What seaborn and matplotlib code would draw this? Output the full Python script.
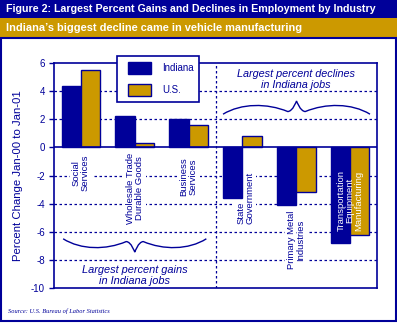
import numpy as np
import pandas as pd
import matplotlib
matplotlib.use("Agg")
import matplotlib.pyplot as plt
from matplotlib.patches import Rectangle, PathPatch
from matplotlib.path import Path
import seaborn as sns

# ---------------- data ----------------
categories = ["Social\nServices", "Wholesale Trade\nDurable Goods", "Business\nServices",
              "State\nGovernment", "Primary Metal\nIndustries",
              "Transportation\nEquipment\nManufacturing"]
indiana = [4.4, 2.2, 2.0, -3.6, -4.1, -6.8]
us = [5.5, 0.3, 1.6, 0.8, -3.2, -6.2]
series_names = ["Indiana", "U.S."]
yticks = [6, 4, 2, 0, -2, -4, -6, -8, -10]

title = "Figure 2: Largest Percent Gains and Declines in Employment by Industry"
subtitle = "Indiana\u2019s biggest decline came in vehicle manufacturing"
ylabel = "Percent Change Jan-00 to Jan-01"
note_top = "Largest percent declines\nin Indiana jobs"
note_bottom = "Largest percent gains\nin Indiana jobs"
source = "Source: U.S. Bureau of Labor Statistics"

# ---------------- style ----------------
NAVY = "#000099"
GOLD = "#CC9900"
sns.set_style("white")
plt.rcParams["font.family"] = ["Liberation Sans", "DejaVu Sans"]

W, H = 397, 323
fig = plt.figure(figsize=(W / 100, H / 100), dpi=100)

def fx(px):
    return px / W

def fy(py):
    return 1 - py / H

# header bars and frame
fig.patches.append(Rectangle((0, fy(18)), 1, 18 / H, transform=fig.transFigure,
                             facecolor=NAVY, edgecolor="none", zorder=0))
fig.patches.append(Rectangle((0, fy(38)), 1, 20 / H, transform=fig.transFigure,
                             facecolor=GOLD, edgecolor="none", zorder=0))
fig.patches.append(Rectangle((fx(0.5), fy(321)), fx(395), (321 - 38) / H,
                             transform=fig.transFigure, facecolor="none",
                             edgecolor=NAVY, linewidth=1.5, zorder=0))
fig.text(fx(6), fy(9), title, color="white", fontsize=7.7, fontweight="bold",
         va="center", ha="left")
fig.text(fx(6), fy(28), subtitle, color="white", fontsize=7.9, fontweight="bold",
         va="center", ha="left")
fig.text(fx(8), fy(311), source, color=NAVY, fontsize=4.6, style="italic",
         family=["Liberation Serif"], va="center", ha="left")

# axes
ax = fig.add_axes([fx(54), fy(288), fx(377 - 54), (288 - 63) / H])

df = pd.DataFrame({
    "category": categories * 2,
    "series": [series_names[0]] * len(categories) + [series_names[1]] * len(categories),
    "value": indiana + us,
})
sns.barplot(data=df, x="category", y="value", hue="series", order=categories,
            hue_order=series_names, palette=[NAVY, GOLD], width=0.72,
            edgecolor=NAVY, linewidth=1, saturation=1, ax=ax, legend=False, zorder=3)

ax.set_ylim(-10, 6)
ax.set_xlim(-0.5, len(categories) - 0.5)
ax.set_yticks(yticks)
ax.set_yticklabels([str(t) for t in yticks], color=NAVY, fontsize=7)
ax.tick_params(axis="y", direction="out", length=3.5, width=1, color=NAVY, pad=3, left=True)
ax.set_xticks([])
ax.set_xlabel("")
ax.set_ylabel(ylabel, color=NAVY, fontsize=8.2, labelpad=6)
for s in ax.spines.values():
    s.set_color(NAVY)
    s.set_linewidth(1.2)

# gridlines
for t in yticks:
    if t in (6, -10):
        continue
    if t == 0:
        ax.axhline(0, color=NAVY, linewidth=1.2, zorder=4)
    else:
        ax.axhline(t, color=NAVY, linewidth=0.9, linestyle=(0, (2, 2)), zorder=1)
ax.axvline(2.5, color=NAVY, linewidth=0.9, linestyle=(0, (2, 2)), zorder=1)

# category labels (layout)
label_x = [0, 0, 0, 0.05, 0, 0]
label_y = [-1.8, -2.9, -2.1, -3.6, -6.6, -3.8]
label_align = ["center", "center", "center", "left", "center", "center"]
for i, lab in enumerate(categories):
    inside = i == len(categories) - 1
    ax.text(i + label_x[i], label_y[i], lab, rotation=90, ha="center", va="center",
            fontsize=6.8, multialignment=label_align[i],
            color="white" if inside else NAVY, linespacing=1.0,
            zorder=6 if inside else 2,
            bbox=None if inside else dict(facecolor="white", edgecolor="none", pad=1.5))

# notes
ax.text(4.0, 4.8, note_top, ha="center", va="center", color=NAVY, fontsize=7.8,
        style="italic", linespacing=1.15, zorder=5)
ax.text(1.0, -9.1, note_bottom, ha="center", va="center", color=NAVY, fontsize=7.9,
        style="italic", linespacing=1.15, zorder=5,
        bbox=dict(facecolor="white", edgecolor="none", pad=0.5))


def brace(ax, x0, x1, y_end, y_sh, y_near, y_tip):
    xc = (x0 + x1) / 2
    L = xc - x0
    xn = xc - 0.12 * L
    xn2 = xc + 0.12 * L
    verts = [(x0, y_end), (x0 + 0.25 * L, y_sh), (x0 + 0.6 * L, y_sh), (xn, y_near),
             (xn + 0.07 * L, y_near), (xc, y_tip), (xc, y_tip),
             (xc, y_tip), (xn2 - 0.07 * L, y_near), (xn2, y_near),
             (x1 - 0.6 * L, y_sh), (x1 - 0.25 * L, y_sh), (x1, y_end)]
    codes = [Path.MOVETO] + [Path.CURVE4] * 12
    ax.add_patch(PathPatch(Path(verts, codes), facecolor="none", edgecolor=NAVY,
                           linewidth=1, zorder=5))


brace(ax, 2.64, 5.37, 2.36, 3.15, 2.55, 3.3)
brace(ax, -0.33, 2.33, -6.5, -7.3, -6.7, -7.45)

# legend (drawn as a boxed key)
fig.patches.append(Rectangle((fx(117), fy(102)), fx(82), 46 / H, transform=fig.transFigure,
                             facecolor="white", edgecolor=NAVY, linewidth=1.2, zorder=10))
key_colors = [NAVY, GOLD]
key_top = [62, 84]
for name, c, top in zip(series_names, key_colors, key_top):
    fig.patches.append(Rectangle((fx(128), fy(top + 11.5)), fx(23), 11.5 / H,
                                 transform=fig.transFigure, facecolor=c,
                                 edgecolor=NAVY, linewidth=1, zorder=11))
    fig.text(fx(162), fy(top + 6), name, color=NAVY, fontsize=7, va="center",
             ha="left", zorder=12)

fig.savefig("out.png", dpi=100)
